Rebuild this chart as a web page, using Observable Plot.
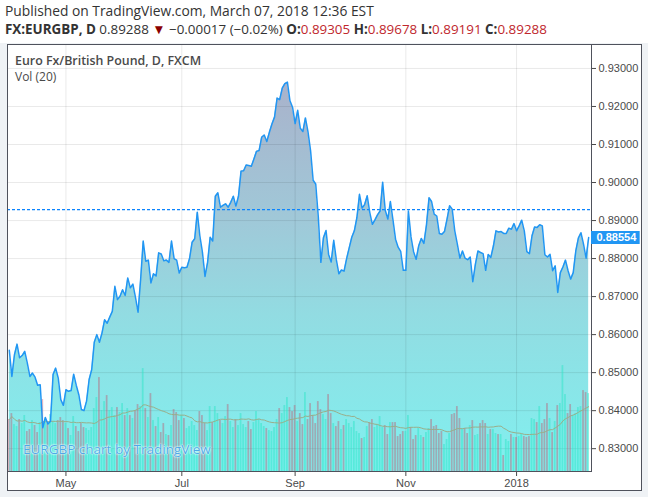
<!DOCTYPE html>
<html><head><meta charset="utf-8">
<script src="https://cdn.jsdelivr.net/npm/d3@7"></script>
<script src="https://cdn.jsdelivr.net/npm/@observablehq/plot@0.6"></script>
<style>
html,body{margin:0;padding:0;background:#fff;}
body{width:648px;height:497px;overflow:hidden;position:relative;font-family:"Open Sans",sans-serif;}
#header{position:absolute;left:0;top:0;width:648px;height:43px;background:#fff;}
.hl{position:absolute;left:5px;line-height:16px;color:#333;white-space:nowrap;}
.b{font-weight:700}
.r{color:#c0272d}
#chart{position:absolute;left:0;top:43px;width:648px;height:454px;background:#eff2f5;}
#panel{position:absolute;left:7px;top:1px;width:635px;height:447px;box-sizing:border-box;border:1px solid #4f525c;background:#fff;}
#plot{position:absolute;left:0;top:0;}
.leg{position:absolute;left:15px;color:#4a4a4a;white-space:nowrap;}
#wm{position:absolute;left:23px;top:398px;font-size:13.5px;line-height:17px;white-space:nowrap;color:rgba(40,145,225,0.78);text-shadow:0 0 1px #e8ffff,0 0 2px #e8ffff,0 0 2px #e8ffff;}
</style></head>
<body>
<div id="header">
  <div class="hl" style="top:3px;font-size:13.8px">Published on TradingView.com, March 07, 2018 12:36 EST</div>
  <div class="hl" style="top:21px;font-size:13.4px"><span class="b">FX:EURGBP, D</span> 0.89288 <span style="color:#8b0000">▼</span> −0.00017 (−0.02%) <span class="b">O:</span><span class="r">0.89305</span> <span class="b">H:</span><span class="r">0.89678</span> <span class="b">L:</span><span class="r">0.89191</span> <span class="b">C:</span><span class="r">0.89288</span></div>
</div>
<div id="chart">
  <div id="panel"></div>
  <div id="plot"></div>
  <div class="leg" style="top:10px;font-size:12.4px;line-height:15px;font-weight:600">Euro Fx/British Pound, D, FXCM</div>
  <div class="leg" style="top:27px;font-size:12px;line-height:14px">Vol (20)</div>
  <div id="wm">EURGBP chart by TradingView</div>
</div>
<script>
// ---- data (daily bars, weekdays from startDate) ----
const startDate = "2017-03-30";
const closes = [
0.8559,0.849,0.8547,0.8575,0.8539,0.8545,0.8556,0.8525,0.849,0.8499,
0.8488,0.8467,0.8468,0.8355,0.8382,0.8365,0.8372,0.8495,0.8512,0.8486,
0.8429,0.8414,0.8455,0.8451,0.8453,0.8496,0.8467,0.8442,0.8403,0.84,
0.8425,0.8482,0.8508,0.858,0.86,0.858,0.8604,0.8639,0.863,0.8646,
0.8661,0.8727,0.8692,0.8701,0.8718,0.8703,0.8749,0.8723,0.8733,0.8698,
0.8659,0.8745,0.8846,0.8793,0.8796,0.8736,0.876,0.8754,0.8815,0.8812,
0.8794,0.8796,0.879,0.8846,0.88,0.8796,0.8762,0.8777,0.8776,0.8777,
0.88,0.8843,0.8852,0.8922,0.886,0.8817,0.8753,0.879,0.8856,0.8846,
0.8964,0.8973,0.8935,0.894,0.8944,0.8935,0.8948,0.8964,0.8938,0.8964,
0.903,0.9031,0.9046,0.9045,0.9043,0.9062,0.9082,0.9084,0.9119,0.9125,
0.9108,0.9132,0.9154,0.9172,0.9222,0.9218,0.9248,0.926,0.9264,0.9215,
0.9198,0.9155,0.919,0.9143,0.9134,0.917,0.9133,0.9084,0.9006,0.8996,
0.891,0.879,0.8855,0.8874,0.8811,0.8791,0.8848,0.8797,0.876,0.877,
0.8767,0.880,0.8828,0.8856,0.8873,0.8908,0.8969,0.8933,0.8942,0.8965,
0.8921,0.889,0.8902,0.8915,0.8925,0.9001,0.8927,0.8904,0.895,0.8902,
0.8851,0.883,0.8819,0.8769,0.8769,0.8925,0.8857,0.8818,0.8798,0.8834,
0.8853,0.884,0.8888,0.896,0.895,0.8917,0.8912,0.8866,0.8864,0.8871,
0.8904,0.8939,0.893,0.8873,0.8838,0.8801,0.882,0.8801,0.8797,0.8804,
0.8739,0.8785,0.882,0.8816,0.8813,0.8769,0.8811,0.8803,0.8833,0.8873,
0.887,0.8871,0.8866,0.8866,0.888,0.8877,0.8892,0.8873,0.8886,0.8901,
0.8873,0.8818,0.8813,0.886,0.8883,0.8882,0.8889,0.8886,0.881,0.8804,
0.8811,0.8768,0.8781,0.8711,0.8763,0.8778,0.8796,0.8768,0.8746,0.8763,
0.882,0.8854,0.8868,0.8838,0.8801,0.88554];
const volumes = [
52,58,47,45,52,48,56,40,42,51,
46,39,49,72,52,48,57,50,48,51,
54,51,48,43,36,55,45,40,48,44,
43,41,44,63,74,94,61,70,76,61,
64,56,64,59,68,56,63,56,53,61,
67,65,103,63,54,78,51,45,54,39,
48,37,36,46,62,59,51,56,53,43,
45,50,46,41,60,56,48,41,65,49,
65,58,51,
48,55,67,50,44,52,46,58,47,44,
50,42,49,60,52,48,45,43,41,40,
44,52,63,58,66,74,64,60,66,50,
58,47,79,52,68,56,48,70,62,57,
52,77,58,48,45,50,42,46,52,48,
44,50,40,38,33,34,45,49,52,44,
47,55,
44,46,37,49,49,49,35,37,40,40,
56,44,32,36,43,36,34,39,43,52,
45,46,38,40,27,32,38,57,58,65,
53,43,43,38,46,51,36,37,48,51,
48,37,42,42,38,37,37,16,32,30,
37,34,34,35,37,35,34,35,53,52,
49,65,48,52,68,53,39,50,66,68,
106,77,58,67,56,58,64,65,81,79,78];
const tickDates = ["2017-05-01","2017-07-03","2017-09-01","2017-11-01","2018-01-01"];
const tickLabels = ["May","Jul","Sep","Nov","2018"];
const priceTicks = [0.83,0.84,0.85,0.86,0.87,0.88,0.89,0.90,0.91,0.92,0.93];
const lastPrice = 0.89288;

// ---- build table ----
const days = [];
for (let t = Date.parse(startDate + "T00:00:00Z"); days.length < closes.length; t += 864e5) {
  const d = new Date(t), w = d.getUTCDay();
  if (w !== 0 && w !== 6) days.push(d);
}
const dayIndex = new Map(days.map((d, k) => [d.toISOString().slice(0, 10), k]));
const data = closes.map((c, k) => ({k, date: days[k], close: c, vol: volumes[k], up: k > 0 && c >= closes[k - 1]}));
const tickPos = tickDates.map(s => dayIndex.get(s));
const labelOf = new Map(tickPos.map((p, j) => [p, tickLabels[j]]));
const last = data[data.length - 1];

const yDomain = [0.824, 0.9363];
const xDomain = [-0.7, closes.length + 0.1];
const vy = d3.scaleLinear([0, d3.max(volumes) / 0.248], yDomain);

const blue = "#2196f3";
const plot = Plot.plot({
  width: 648, height: 454,
  marginLeft: 7, marginRight: 57, marginTop: 1, marginBottom: 26,
  style: {background: "transparent", fontFamily: "'Liberation Sans', Arial, sans-serif", fontSize: "11px", color: "#4a4a4a", overflow: "visible"},
  x: {type: "linear", domain: xDomain, ticks: tickPos, tickFormat: p => labelOf.get(p), tickSize: 5, tickPadding: 3, label: null},
  y: {domain: yDomain, axis: "right", ticks: priceTicks, tickFormat: d3.format(".5f"), tickSize: 4, tickPadding: 3, label: null},
  marks: [
    Plot.areaY(data, {x: "k", y1: () => yDomain[0], y2: "close", fill: "url(#areaGrad)"}),
    Plot.ruleY(priceTicks, {stroke: "#000", strokeOpacity: 0.085}),
    Plot.ruleX(tickPos, {stroke: "#000", strokeOpacity: 0.085}),
    Plot.rect(data.filter(d => !d.up), {x1: d => d.k - 0.34, x2: d => d.k + 0.34, y1: () => yDomain[0], y2: d => vy(d.vol), fill: "#c0506a", fillOpacity: 0.42}),
    Plot.rect(data.filter(d => d.up), {x1: d => d.k - 0.34, x2: d => d.k + 0.34, y1: () => yDomain[0], y2: d => vy(d.vol), fill: "#2ee6c8", fillOpacity: 0.5}),
    Plot.lineY(data, Plot.windowY({k: 20, anchor: "end", reduce: "mean"}, {x: "k", y: d => vy(d.vol), stroke: "#9aae8a", strokeWidth: 1})),
    Plot.ruleY([lastPrice], {stroke: "#0a84ff", strokeWidth: 1.3, strokeDasharray: "3,2"}),
    Plot.lineY(data, {x: "k", y: "close", stroke: blue, strokeWidth: 1.5}),
    Plot.frame({stroke: "#4f525c"}),
    Plot.ruleY([last], {y: "close", x1: () => xDomain[1], x2: () => xDomain[1] + 18.9, stroke: blue, strokeWidth: 13}),
    Plot.text([last], {x: () => xDomain[1], y: "close", text: d => d.close.toFixed(5), dx: 5, textAnchor: "start", fill: "white", fontWeight: "bold", fontSize: 11})
  ]
});
const ns = "http://www.w3.org/2000/svg";
const defs = document.createElementNS(ns, "defs");
defs.innerHTML = `<linearGradient id="areaGrad" x1="0" y1="0" x2="0" y2="1">
  <stop offset="0" stop-color="#a9b2cb"/><stop offset="0.35" stop-color="#a0c8d8"/>
  <stop offset="0.6" stop-color="#92dce2"/><stop offset="1" stop-color="#80f0ef"/></linearGradient>`;
plot.insertBefore(defs, plot.firstChild);
document.getElementById("plot").appendChild(plot);
</script>
</body></html>
